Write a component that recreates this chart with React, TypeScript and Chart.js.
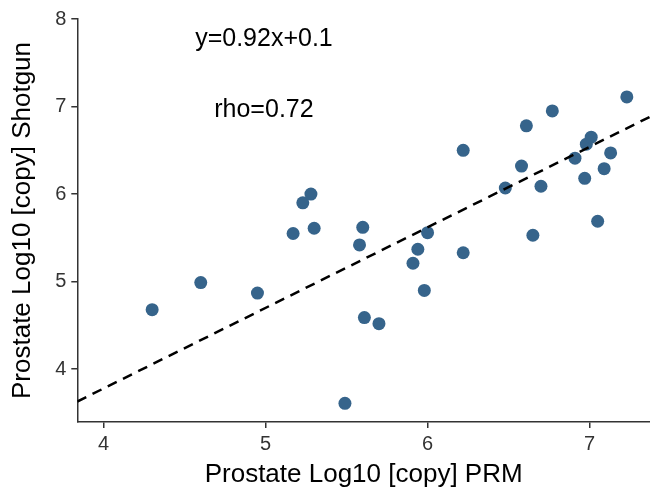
import React, { useEffect, useRef } from "react";
import { Chart, registerables } from "chart.js";

Chart.register(...registerables);

const prmValues = [
  4.30, 4.60, 4.95, 5.17, 5.23, 5.28, 5.30, 5.49, 5.58, 5.60, 5.61, 5.70,
  5.91, 5.94, 5.98, 6.00, 6.22, 6.22, 6.48, 6.58, 6.61, 6.65, 6.70, 6.77,
  6.91, 6.97, 6.98, 7.01, 7.05, 7.09, 7.13, 7.23,
];
const shotgunValues = [
  4.68, 4.99, 4.87, 5.55, 5.90, 6.00, 5.61, 3.61, 5.42, 5.62, 4.59, 4.52,
  5.21, 5.37, 4.90, 5.56, 5.33, 6.50, 6.07, 6.32, 6.78, 5.53, 6.09, 6.95,
  6.41, 6.18, 6.57, 6.65, 5.69, 6.29, 6.47, 7.11,
];
const fitSlope = 0.92;
const fitIntercept = 0.1;
const xRange = [3.838, 7.373];
const yRange = [3.397, 8];
const annotations = [
  { text: "y=0.92x+0.1", x: 4.99, y: 7.77 },
  { text: "rho=0.72", x: 4.99, y: 6.955 },
];

const FONT = "'Liberation Sans', Arial, sans-serif";

const textPlugin = {
  id: "textAnnotations",
  afterDatasetsDraw(chart: any) {
    const { ctx, scales } = chart;
    ctx.save();
    ctx.font = `25px ${FONT}`;
    ctx.fillStyle = "#000000";
    ctx.textAlign = "center";
    ctx.textBaseline = "middle";
    for (const a of annotations) {
      ctx.fillText(a.text, scales.x.getPixelForValue(a.x), scales.y.getPixelForValue(a.y));
    }
    ctx.restore();
  },
};

export default function App() {
  const ref = useRef<HTMLCanvasElement>(null);
  useEffect(() => {
    if (!ref.current) return;
    const points = prmValues.map((x, i) => ({ x, y: shotgunValues[i] }));
    const fitLine = xRange.map((x) => ({ x, y: fitSlope * x + fitIntercept }));
    const chart = new Chart(ref.current, {
      type: "scatter",
      data: {
        datasets: [
          {
            type: "line",
            data: fitLine,
            borderColor: "#000000",
            borderWidth: 2.5,
            borderDash: [10, 7],
            pointRadius: 0,
            fill: false,
          } as any,
          {
            data: points,
            backgroundColor: "#36648B",
            borderColor: "#36648B",
            borderWidth: 0,
            pointRadius: 6.5,
            pointHoverRadius: 6.5,
          },
        ],
      },
      options: {
        animation: false,
        responsive: false,
        events: [],
        layout: { autoPadding: false, padding: { top: 19, right: 0, bottom: 0, left: 0 } },
        plugins: { legend: { display: false }, tooltip: { enabled: false } },
        scales: {
          x: {
            type: "linear",
            min: xRange[0],
            max: xRange[1],
            afterFit: (s: any) => {
              s.height = 71;
              s.paddingLeft = 0;
              s.paddingRight = 0;
            },
            ticks: {
              stepSize: 1,
              includeBounds: false,
              color: "#333333",
              font: { family: FONT, size: 20 },
              padding: 4,
            },
            grid: { drawOnChartArea: false, drawTicks: true, tickLength: 6, color: "#333333", lineWidth: 1.5 },
            border: { display: true, color: "#333333", width: 1.5 },
            title: {
              display: true,
              text: "Prostate Log10 [copy] PRM",
              color: "#000000",
              font: { family: FONT, size: 26 },
              padding: { top: 0, bottom: 3 },
            },
          },
          y: {
            type: "linear",
            min: yRange[0],
            max: yRange[1],
            afterFit: (s: any) => {
              s.width = 77.3;
              s.paddingTop = 0;
              s.paddingBottom = 0;
            },
            ticks: {
              stepSize: 1,
              includeBounds: false,
              color: "#333333",
              font: { family: FONT, size: 20 },
              padding: 5,
            },
            grid: { drawOnChartArea: false, drawTicks: true, tickLength: 6, color: "#333333", lineWidth: 1.5 },
            border: { display: true, color: "#333333", width: 1.5 },
            title: {
              display: true,
              text: "Prostate Log10 [copy] Shotgun",
              color: "#000000",
              font: { family: FONT, size: 26 },
              padding: { top: 7, bottom: 0 },
            },
          },
        },
      },
      plugins: [textPlugin],
    });
    return () => chart.destroy();
  }, []);
  return (
    <div style={{ position: "fixed", left: 0, top: 0, width: 650, height: 493, background: "#fff" }}>
      <canvas ref={ref} width={650} height={493} style={{ display: "block" }} />
    </div>
  );
}
